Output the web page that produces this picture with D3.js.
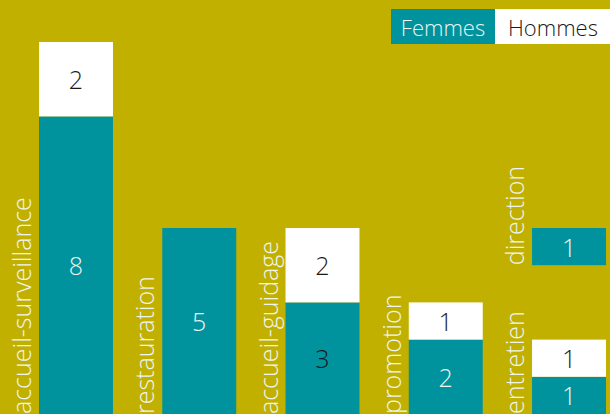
<!DOCTYPE html>
<html>
<head>
<meta charset="utf-8">
<script src="https://cdn.jsdelivr.net/npm/d3@7"></script>
<style>
  html, body { margin: 0; padding: 0; background: #c2b000; overflow: hidden; }
  svg { display: block; }
  text { font-family: "Open Sans", "DejaVu Sans", sans-serif; font-weight: 300; }
</style>
</head>
<body>
<svg id="chart" width="610" height="414"></svg>
<script>
// ---- data ----
const categories = ["accueil-surveillance", "restauration", "accueil-guidage", "promotion", "direction", "entretien"];
const femmes = [8, 5, 3, 2, 1, 1];
const hommes = [2, 0, 2, 1, 0, 1];
const base = [0, 0, 0, 0, 4, 0];        // direction bar floats above the baseline
const slot = [0, 1, 2, 3, 4, 4];        // column each category sits in
const seriesNames = ["Femmes", "Hommes"];

// ---- styles ----
const W = 610, H = 414;
const colFemmes = "#00939e", colHommes = "#ffffff";
const lightText = "#eef4ee", darkText = "#1a1a1a";
const darkFemmesLabel = new Set(["accueil-guidage"]);

const svg = d3.select("#chart");
svg.append("rect").attr("width", W).attr("height", H).attr("fill", "#c2b000");

const x = d3.scaleBand().domain(d3.range(5)).range([39, 606]).paddingInner(0.4).paddingOuter(0);
const y = d3.scaleLinear().domain([0, 10]).range([414, 42]);

const rows = categories.map((c, i) => ({
  cat: c, f: femmes[i], h: hommes[i], b: base[i], s: slot[i]
}));

const g = svg.append("g");
const grp = g.selectAll("g.bar").data(rows).join("g").attr("class", "bar");

// femmes segment
grp.filter(d => d.f > 0).append("rect")
  .attr("x", d => x(d.s)).attr("width", x.bandwidth())
  .attr("y", d => y(d.b + d.f)).attr("height", d => y(d.b) - y(d.b + d.f))
  .attr("fill", colFemmes);
grp.filter(d => d.f > 0).append("text")
  .attr("x", d => x(d.s) + x.bandwidth() / 2)
  .attr("y", d => (y(d.b) + y(d.b + d.f)) / 2)
  .attr("text-anchor", "middle").attr("dominant-baseline", "central")
  .attr("font-size", 25)
  .attr("fill", d => darkFemmesLabel.has(d.cat) ? darkText : lightText)
  .text(d => d.f);

// hommes segment
grp.filter(d => d.h > 0).append("rect")
  .attr("x", d => x(d.s)).attr("width", x.bandwidth())
  .attr("y", d => y(d.b + d.f + d.h)).attr("height", d => y(d.b + d.f) - y(d.b + d.f + d.h))
  .attr("fill", colHommes);
grp.filter(d => d.h > 0).append("text")
  .attr("x", d => x(d.s) + x.bandwidth() / 2)
  .attr("y", d => (y(d.b + d.f) + y(d.b + d.f + d.h)) / 2)
  .attr("text-anchor", "middle").attr("dominant-baseline", "central")
  .attr("font-size", 25)
  .attr("fill", darkText)
  .text(d => d.h);

// category labels, rotated, to the left of each bar
grp.append("text")
  .attr("transform", d => `translate(${x(d.s) - 8},${y(d.b)}) rotate(-90)`)
  .attr("text-anchor", "start")
  .attr("font-size", 25)
  .attr("fill", lightText)
  .text(d => d.cat);

// legend
const legend = svg.append("g");
const legX = d3.scaleOrdinal().domain(seriesNames).range([391, 495]);
const legW = d3.scaleOrdinal().domain(seriesNames).range([104, 116]);
legend.selectAll("rect").data(seriesNames).join("rect")
  .attr("x", d => legX(d)).attr("y", 9).attr("width", d => legW(d)).attr("height", 35)
  .attr("fill", (d, i) => i === 0 ? colFemmes : colHommes);
legend.selectAll("text").data(seriesNames).join("text")
  .attr("x", d => legX(d) + legW(d) / 2).attr("y", 26.5)
  .attr("text-anchor", "middle")
  .attr("dominant-baseline", "central")
  .attr("font-size", 22)
  .attr("fill", (d, i) => i === 0 ? lightText : darkText)
  .text(d => d);
</script>
</body>
</html>
